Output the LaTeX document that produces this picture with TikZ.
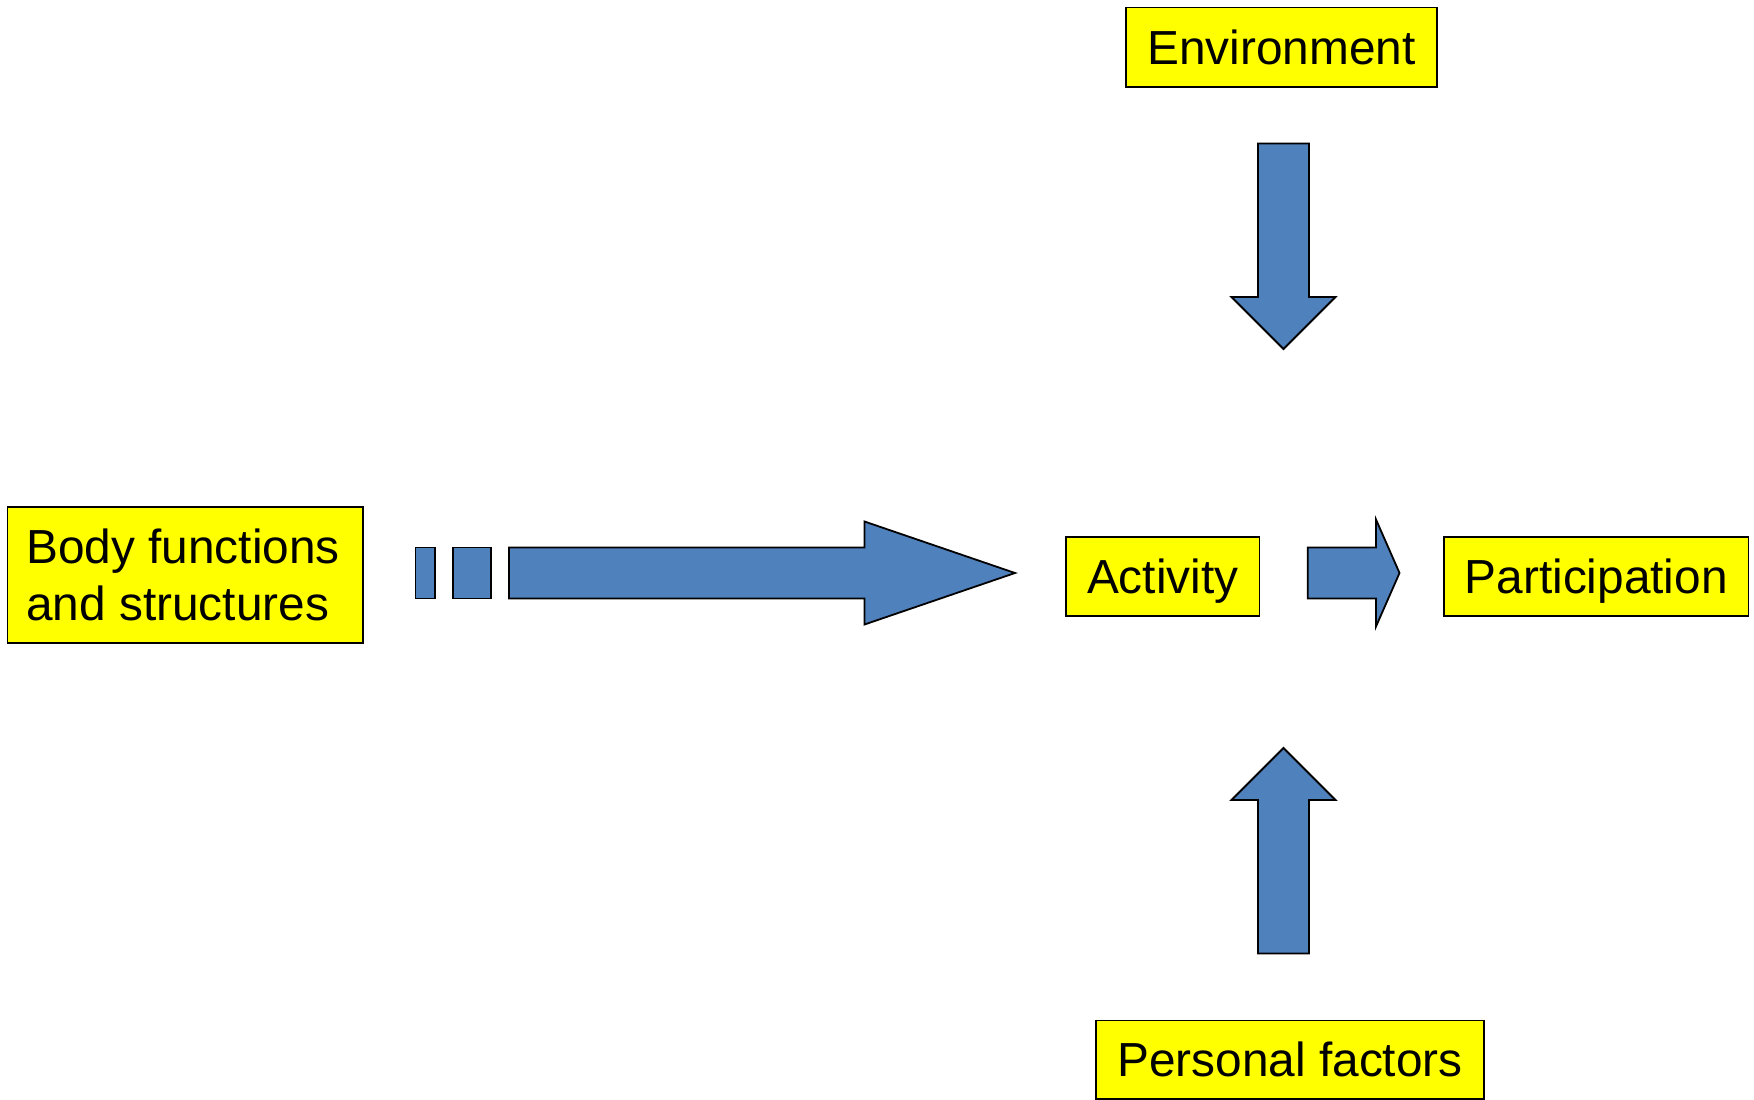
\documentclass[tikz,border=0pt]{standalone}
\usepackage{fontspec}
\setmainfont{Liberation Sans}
\definecolor{arrowblue}{HTML}{4F81BD}
\definecolor{boxyellow}{HTML}{FFFF00}
\begin{document}
\begin{tikzpicture}[x=1pt,y=-1pt,
  box/.style={draw=black, line width=1.8pt, fill=boxyellow, inner sep=0pt,
    font=\fontsize{47.8}{55}\selectfont, text height=34.2pt, text depth=0pt},
  linetext/.style={inner sep=0pt, font=\fontsize{47.8}{55}\selectfont, anchor=base west},
  blockarrow/.style={draw=black, line width=1.8pt, fill=arrowblue, line join=miter}]
\useasboundingbox (0,0) rectangle (1754,1100);

% boxes
\node[box, minimum width=355.8pt, minimum height=136.3pt] (body) at (185.4,574.9) {};
\node[linetext] (bodyA) at (26,563.5) {Body functions};
\node[linetext] (bodyB) at (26,620.5) {and structures};
\node[box, minimum width=193.5pt, minimum height=79pt] (activity) at (1162.75,576.5) {Activity};
\node[box, minimum width=304.5pt, minimum height=79pt] (participation) at (1596.25,576.5) {Participation};
\node[box, minimum width=311pt, minimum height=79.8pt] (environment) at (1281.5,47.4) {Environment};
\node[box, minimum width=388pt, minimum height=78.5pt] (personal) at (1290,1059.75) {Personal factors};

% dashed tail of the big arrow
\draw[blockarrow] (415.5,547.5) rectangle (435,598.5);
\draw[blockarrow] (453,547.5) rectangle (491,598.5);
% big arrow
\draw[blockarrow] (509,547.5) -- (864.5,547.5) -- (864.5,521.5) -- (1015,573)
  -- (864.5,624.5) -- (864.5,598.5) -- (509,598.5) -- cycle;
% small arrow activity -> participation
\draw[blockarrow] (1307.7,547.5) -- (1376,547.5) -- (1376,519.5) -- (1399.5,573)
  -- (1376,626.5) -- (1376,598.5) -- (1307.7,598.5) -- cycle;
% down arrow from environment
\draw[blockarrow] (1258,143.5) -- (1309,143.5) -- (1309,297) -- (1335.5,297)
  -- (1283.5,349) -- (1231.5,297) -- (1258,297) -- cycle;
% up arrow from personal factors
\draw[blockarrow] (1258,953.5) -- (1309,953.5) -- (1309,800) -- (1335.5,800)
  -- (1283.5,748) -- (1231.5,800) -- (1258,800) -- cycle;
\end{tikzpicture}
\end{document}
